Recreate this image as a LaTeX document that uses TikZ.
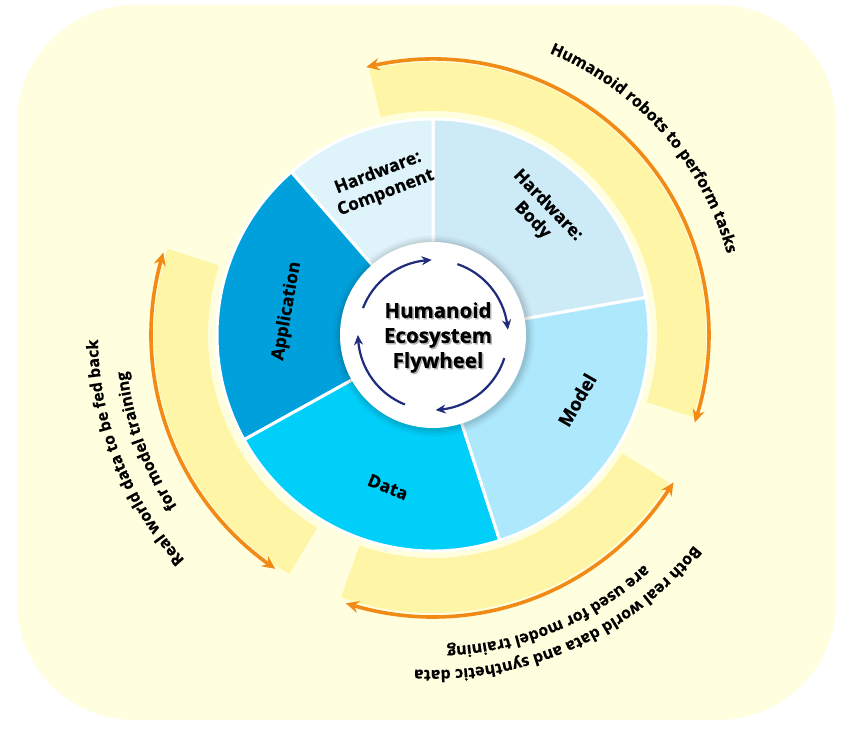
\documentclass[tikz,border=0pt]{standalone}
\usepackage{fontspec}
\setmainfont{Open Sans}
\newfontfamily\heavy[FakeBold=0.35]{Open Sans}
\usetikzlibrary{arrows.meta,bending,calc,decorations.text}
\definecolor{bgyellow}{HTML}{FFFEDE}
\definecolor{bandyellow}{HTML}{FFF5A6}
\definecolor{orangeA}{HTML}{F28A16}
\definecolor{compC}{HTML}{DEF3FA}
\definecolor{bodyC}{HTML}{CDEBF7}
\definecolor{modelC}{HTML}{AEE8FC}
\definecolor{dataC}{HTML}{00CFFA}
\definecolor{appC}{HTML}{00A0DC}
\definecolor{navy}{HTML}{1F2B7B}
\newcommand\outerfont{\fontsize{16}{18}\selectfont\heavy\bfseries}
\begin{document}
\begin{tikzpicture}[x=1pt,y=1pt,
  seglabel/.style={font=\fontsize{17.5}{21.5}\selectfont\heavy\bfseries, align=center, text=black},
  centertext/.style={font=\fontsize{20.5}{25}\selectfont\heavy\bfseries, align=center},
  oarrow/.tip={Stealth[length=13pt,width=12pt,bend]},
  narrow/.tip={Stealth[length=10pt,width=9pt,bend]},
  orangearc/.style={draw=orangeA, line width=3.6pt, arrows=oarrow-oarrow},
  navyarc/.style={draw=navy, line width=2.2pt, arrows=-narrow},
  sector/.style={draw=white, line width=3pt, line join=round},
  bandfill/.style={fill=bandyellow}
]
\useasboundingbox (0,0) rectangle (864,738);
\fill[white] (0,0) rectangle (864,738);
\fill[bgyellow, rounded corners=118pt] (17,18) rectangle (836,733);
\coordinate (C) at (433,403);

% yellow bands
\fill[bandfill] ($(C)+(103.5:224)$) arc[start angle=103.5,end angle=-17.5,radius=224] -- ($(C)+(-17.5:273)$) arc[start angle=-17.5,end angle=103.5,radius=273] -- cycle;
\fill[bandfill] ($(C)+(162:225)$) arc[start angle=162,end angle=239,radius=225] -- ($(C)+(239:279)$) arc[start angle=239,end angle=162,radius=279] -- cycle;
\fill[bandfill] ($(C)+(250.7:223)$) arc[start angle=250.7,end angle=328,radius=223] -- ($(C)+(328:278)$) arc[start angle=328,end angle=250.7,radius=278] -- cycle;

% orange arrows
\draw[orangearc] ($(C)+(104:276)$) arc[start angle=104,end angle=-18.5,radius=276];
\draw[orangearc] ($(C)+(163:282)$) arc[start angle=163,end angle=236,radius=282];
\draw[orangearc] ($(C)+(252:282)$) arc[start angle=252,end angle=328.5,radius=282];

% pie
\filldraw[sector, fill=bodyC] (C) -- ++(10:216) arc[start angle=10,end angle=90,radius=216] -- cycle;
\filldraw[sector, fill=compC] (C) -- ++(90:216) arc[start angle=90,end angle=131,radius=216] -- cycle;
\filldraw[sector, fill=appC] (C) -- ++(131:216) arc[start angle=131,end angle=209,radius=216] -- cycle;
\filldraw[sector, fill=dataC] (C) -- ++(209:216) arc[start angle=209,end angle=288,radius=216] -- cycle;
\filldraw[sector, fill=modelC] (C) -- ++(288:216) arc[start angle=288,end angle=370,radius=216] -- cycle;

% hub
\foreach \r/\o in {101/0.025,99/0.035,97/0.045,95/0.06} \fill[black, opacity=\o] ($(C)+(1,-1)$) circle (\r);
\node[circle, fill=white, inner sep=0pt, minimum size=186pt] (hub) at (C) {};

\draw[navyarc] ($(C)+(159:75)$) arc[start angle=159,end angle=91,radius=75];
\draw[navyarc] ($(C)+(71:75)$) arc[start angle=71,end angle=4,radius=75];
\draw[navyarc] ($(C)+(-18:75)$) arc[start angle=-18,end angle=-88,radius=75];
\draw[navyarc] ($(C)+(-112:75)$) arc[start angle=-112,end angle=-180,radius=75];

\node[centertext, text=black!60, opacity=0.5] (titleshadow) at ($(C)+(6.5,-4)$) {Humanoid\\Ecosystem\\Flywheel};
\node[centertext, text=black] (title) at ($(C)+(5,-2.5)$) {Humanoid\\Ecosystem\\Flywheel};

% segment labels
\node[seglabel, rotate=21] (comp) at (382,555) {Hardware:\\Component};
\node[seglabel, rotate=-46] (body) at (540,525) {Hardware:\\Body};
\node[seglabel, rotate=60, font=\fontsize{18.5}{22}\selectfont\heavy\bfseries] (model) at (577,338) {Model};
\node[seglabel, rotate=-22] (data) at (388,251) {Data};
\node[seglabel, rotate=80] (app) at (287,427) {Application};

% outer curved texts
\path[decorate, decoration={text along path, text align=center, text={|\outerfont|Humanoid robots to perform tasks}}] ($(C)+(81.5:305)$) arc[start angle=81.5,end angle=1.5,radius=305];
\path[decorate, decoration={text along path, text align=center, text={|\outerfont|Real world data to be fed back}}] ($(C)+(241.5:335)$) arc[start angle=241.5,end angle=161.5,radius=335];
\path[decorate, decoration={text along path, text align=center, text={|\outerfont|for model training}}] ($(C)+(240.3:308)$) arc[start angle=240.3,end angle=160.3,radius=308];
\path[decorate, decoration={text along path, text align=center, text={|\outerfont|Both real world data and synthetic data}}] ($(C)+(-26:335)$) arc[start angle=-26,end angle=-106,radius=335];
\path[decorate, decoration={text along path, text align=center, text={|\outerfont|are used for model training}}] ($(C)+(-27.4:312)$) arc[start angle=-27.4,end angle=-107.4,radius=312];
\end{tikzpicture}
\end{document}
